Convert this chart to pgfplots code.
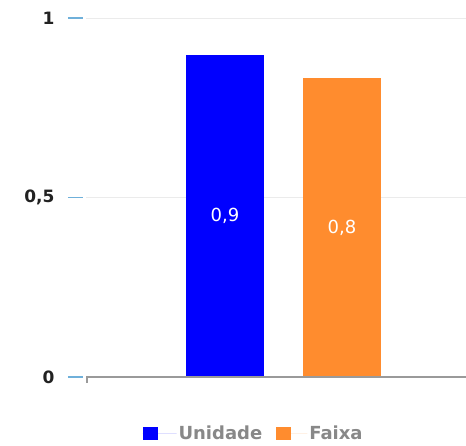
\documentclass[border=0pt]{standalone}
\usepackage{fontspec}
\setmainfont{DejaVu Sans}
\usepackage{pgfplots}
\pgfplotsset{compat=1.18}
\definecolor{ublue}{HTML}{0000FF}
\definecolor{forange}{HTML}{FF8C2E}
\definecolor{tickblue}{HTML}{6FB0DA}
\definecolor{gridgray}{HTML}{EBEBEB}
\definecolor{axisgray}{HTML}{9A9A9A}
\definecolor{leggray}{HTML}{888888}
\definecolor{labdark}{HTML}{222222}
\begin{document}
\begin{tikzpicture}
\path[use as bounding box] (0,0) rectangle (466pt,446pt);
\begin{axis}[
  at={(86pt,69pt)}, anchor=south west,
  scale only axis, width=380pt, height=377pt,
  xmin=86, xmax=466, ymin=0, ymax=1.0501,
  axis line style={draw=none},
  major tick length=0pt,
  xtick=\empty,
  ytick={0,0.5,1},
  yticklabels={0,{0,5},1},
  yticklabel style={font=\fontsize{17}{20}\selectfont\bfseries, text=labdark, xshift=-28pt},
  ymajorgrids, grid style={gridgray, line width=0.8pt},
  clip=false,
  legend style={at={(0.441,-0.150)}, anchor=center, draw=none, fill=none,
    legend columns=2, font=\fontsize{18}{20}\selectfont\bfseries, text=leggray,
    /tikz/every even column/.append style={column sep=12pt},
    inner sep=0pt},
]
\addplot[ybar, bar shift=0pt, bar width=78, fill=ublue, draw=none,
  legend image code/.code={\fill[ublue] (0pt,-6.5pt) rectangle (15pt,6.5pt); \path (0pt,0pt) -- (34pt,0pt);}]
  coordinates {(225,0.897)};
\addlegendentry{Unidade}
\addplot[ybar, bar shift=0pt, bar width=78, fill=forange, draw=none,
  legend image code/.code={\fill[forange] (0pt,-6.5pt) rectangle (15pt,6.5pt); \path (0pt,0pt) -- (31pt,0pt);}]
  coordinates {(342,0.833)};
\addlegendentry{Faixa}
\addplot[draw=none, mark=none, forget plot, nodes near coords, point meta=explicit symbolic,
  nodes near coords style={text=white, anchor=center, font=\fontsize{18}{20}\selectfont}]
  coordinates {(225,0.4485)[{0,9}] (342,0.4165)[{0,8}]};
\draw[tickblue, line width=1.6pt] (axis cs:68,0) -- (axis cs:83,0);
\draw[tickblue, line width=1.6pt] (axis cs:68,0.5) -- (axis cs:83,0.5);
\draw[tickblue, line width=1.6pt] (axis cs:68,1) -- (axis cs:83,1);
\draw[axisgray, line width=1.2pt] (axis cs:86,0) -- (axis cs:466,0);
\draw[axisgray, line width=1.2pt] (axis cs:87,0) -- ++(0pt,-6pt);
\end{axis}
\end{tikzpicture}
\end{document}
